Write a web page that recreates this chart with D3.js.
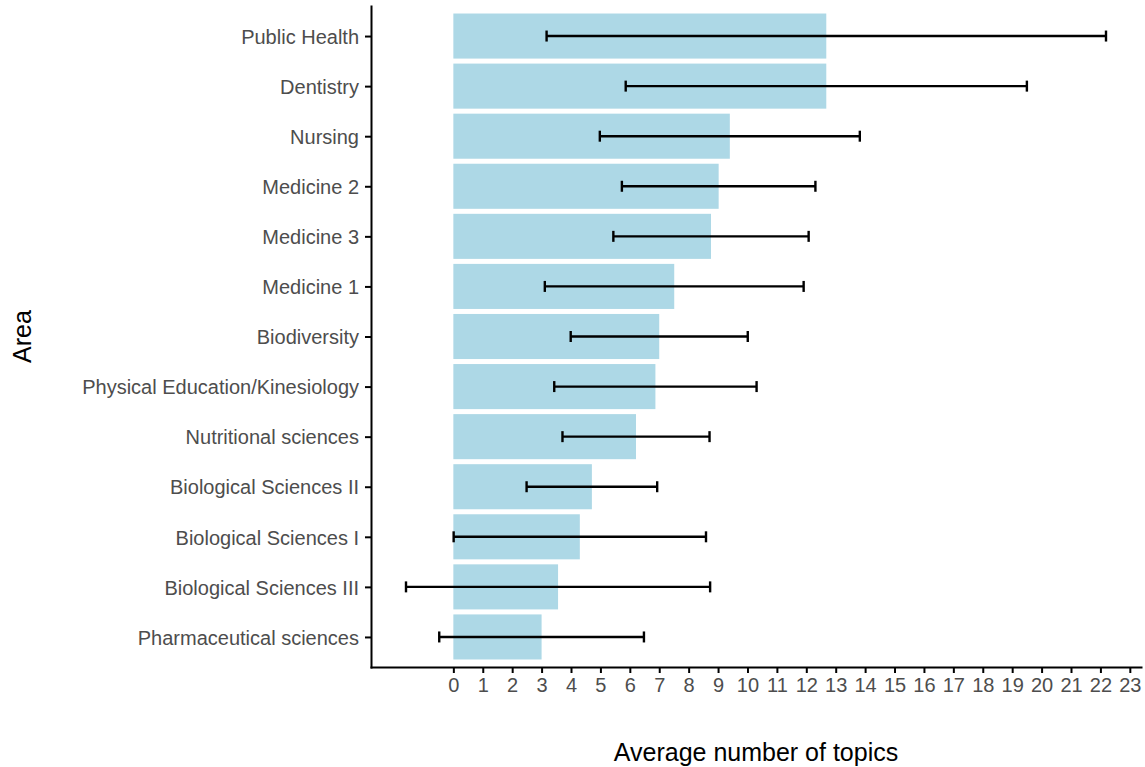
<!DOCTYPE html>
<html>
<head>
<meta charset="utf-8">
<script src="https://cdn.jsdelivr.net/npm/d3@7"></script>
<style>
  html, body { margin: 0; padding: 0; background: #fff; }
  svg { display: block; }
  text { font-family: "Liberation Sans", Arial, Helvetica, sans-serif; }
</style>
</head>
<body>
<svg id="chart" width="1145" height="767"></svg>
<script>
// Categories (top to bottom)
const areas = [
  "Public Health", "Dentistry", "Nursing", "Medicine 2", "Medicine 3",
  "Medicine 1", "Biodiversity", "Physical Education/Kinesiology",
  "Nutritional sciences", "Biological Sciences II", "Biological Sciences I",
  "Biological Sciences III", "Pharmaceutical sciences"
];
// Mean number of topics
const means = [12.68, 12.68, 9.40, 9.02, 8.76, 7.51, 7.00, 6.87, 6.21, 4.71, 4.30, 3.56, 3.00];
// Error half-widths (sd)
const sds = [9.51, 6.82, 4.42, 3.29, 3.32, 4.40, 3.01, 3.44, 2.50, 2.22, 4.29, 5.17, 3.48];
// X tick values
const xTicks = d3.range(0, 24);

const xTitle = "Average number of topics";
const yTitle = "Area";

const data = areas.map((a, i) => ({ area: a, mean: means[i], sd: sds[i] }));

const svg = d3.select("#chart");
const panel = { left: 371, right: 1141, top: 6, bottom: 667 };

// continuous x with ggplot-like 5% expansion
const lo = d3.min(data, d => Math.min(0, d.mean - d.sd));
const hi = d3.max(data, d => Math.max(d.mean, d.mean + d.sd));
const pad = (hi - lo) * 0.05;
const x = d3.scaleLinear().domain([lo - pad, hi + pad]).range([panel.left, panel.right]);

const y = d3.scalePoint().domain(areas).range([panel.top, panel.bottom]).padding(0.6);
const barH = y.step() * 0.9;
const capH = 5.5;

// bars
svg.append("g").selectAll("rect").data(data).join("rect")
  .attr("x", x(0))
  .attr("y", d => y(d.area) - barH / 2)
  .attr("width", d => x(d.mean) - x(0))
  .attr("height", barH)
  .attr("fill", "#ADD8E6");

// error bars
const eb = svg.append("g").attr("stroke", "#000").attr("stroke-width", 2.4).attr("fill", "none");
eb.selectAll("line.h").data(data).join("line").attr("class", "h")
  .attr("x1", d => x(d.mean - d.sd)).attr("x2", d => x(d.mean + d.sd))
  .attr("y1", d => y(d.area)).attr("y2", d => y(d.area));
eb.selectAll("line.l").data(data).join("line").attr("class", "l")
  .attr("x1", d => x(d.mean - d.sd)).attr("x2", d => x(d.mean - d.sd))
  .attr("y1", d => y(d.area) - capH).attr("y2", d => y(d.area) + capH);
eb.selectAll("line.r").data(data).join("line").attr("class", "r")
  .attr("x1", d => x(d.mean + d.sd)).attr("x2", d => x(d.mean + d.sd))
  .attr("y1", d => y(d.area) - capH).attr("y2", d => y(d.area) + capH);

// axes
const xAxis = svg.append("g").attr("transform", `translate(0,${panel.bottom})`)
  .call(d3.axisBottom(x).tickValues(xTicks).tickFormat(d3.format("d")).tickSize(6).tickSizeOuter(0).tickPadding(5));
const yAxis = svg.append("g").attr("transform", `translate(${panel.left},0)`)
  .call(d3.axisLeft(y).tickSize(6).tickSizeOuter(0).tickPadding(6));

[xAxis, yAxis].forEach(g => {
  g.select(".domain").attr("stroke", "#000").attr("stroke-width", 2).attr("stroke-linecap", "square");
  g.selectAll(".tick line").attr("stroke", "#000").attr("stroke-width", 2);
  g.selectAll(".tick text").attr("fill", "#4D4D4D").attr("font-family", "Liberation Sans, Arial, sans-serif");
});
xAxis.selectAll(".tick text").attr("font-size", 20);
yAxis.selectAll(".tick text").attr("font-size", 20).attr("dy", "0.36em");

// titles
svg.append("text")
  .attr("x", (panel.left + panel.right) / 2).attr("y", 761)
  .attr("text-anchor", "middle").attr("font-size", 25).attr("fill", "#000")
  .text(xTitle);
svg.append("text")
  .attr("transform", `translate(31,${(panel.top + panel.bottom) / 2}) rotate(-90)`)
  .attr("text-anchor", "middle").attr("font-size", 25).attr("fill", "#000")
  .text(yTitle);
</script>
</body>
</html>
